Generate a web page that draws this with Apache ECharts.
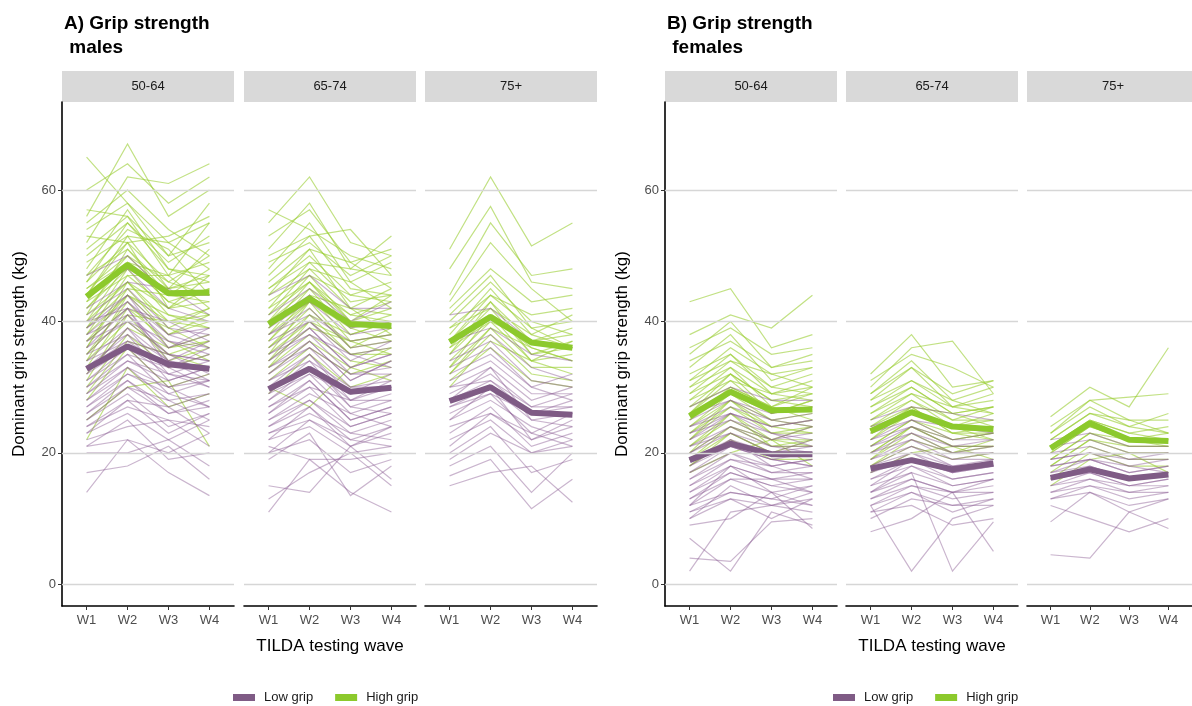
<!DOCTYPE html>
<html><head><meta charset="utf-8">
<script src="https://cdn.jsdelivr.net/npm/echarts@6/dist/echarts.min.js"></script>
<style>html,body{margin:0;padding:0;background:#fff}#c{width:1192px;height:706px}</style>
</head><body><div id="c"></div>
<script>
const waves = ['W1','W2','W3','W4'];
const waveValues = [1,2,3,4];
const ageGroups = ['50-64','65-74','75+'];
const yTicks = [0,20,40,60];
const groupNames = ['Low grip','High grip'];
const panelTitles = ['A) Grip strength\n males','B) Grip strength\n females'];
const xTitle = 'TILDA testing wave';
const yTitle = 'Dominant grip strength (kg)';

// group means per age group (W1..W4)
const maleLowMean = [[32.8,36.2,33.5,32.8],[29.7,32.8,29.3,29.9],[27.9,30.0,26.1,25.8]];
const maleHighMean = [[43.8,48.6,44.3,44.4],[39.6,43.5,39.6,39.3],[36.9,40.7,36.8,36.0]];
const femaleLowMean = [[18.9,21.4,19.8,19.8],[17.6,18.9,17.5,18.4],[16.2,17.5,16.1,16.7]];
const femaleHighMean = [[25.6,29.3,26.5,26.6],[23.3,26.2,24.0,23.6],[20.7,24.5,22.0,21.8]];

// individual trajectories
const maleHigh5064 = [[65,58,52,55],[56,67,56,60],[60,64,58,62],[52,62,61,64],[55,60,54,50],[57,56,50,58],[50,55,49,53],[48,57,48,47],[53,52,53,56],[46,52,46,50],[47,54,51,44],[45,50,44,48],[44,53,45,46],[42,49,43,45],[43,47,47,42],[41,51,44,43],[40,46,40,42],[39,48,41,39],[38,44,40,41],[36,45,38,40],[37,42,39,36],[35,43,36,38],[34,40,35,37],[33,42,37,34],[30,38,33,35],[28,36,30,32],[22,33,27,29],[25,30,31,21],
  [54,58,50,52],[51,56,47,55],[49,53,52,48],[47,51,45,51],[46,55,48,46],[45,49,47,49],[44,52,42,47],[43,50,46,44],[42,48,45,47],[41,46,42,45],[40,49,43,41],[39,45,44,44],[38,47,42,43],[37,44,41,40],[36,46,39,42],[35,41,40,39],[34,44,38,41],[32,39,36,37],[31,41,34,36],[29,37,35,33]];
const maleLow5064 = [[47,50,44,44],[44,48,42,40],[42,46,45,41],[40,44,38,39],[39,43,37,36],[38,41,36,38],[37,40,35,34],[36,42,33,35],[35,38,34,33],[34,39,32,31],[33,37,35,34],[32,36,30,32],[31,35,33,30],[30,34,31,33],[29,33,28,29],[28,32,30,27],[27,31,26,28],[26,30,28,25],[25,29,24,26],[24,28,27,23],[23,26,22,25],[22,24,25,21],[21,22,20,23],[20,20,22,18],[17,18,21,16],[14,22,17,13.5],[21,25,19,20],
  [41,45,39,38],[40,42,40,37],[39,44,36,39],[38,43,38,36],[37,42,34,37],[36,40,37,35],[35,41,35,32],[34,37,33,36],[33,38,31,33],[32,39,34,31],[31,36,32,34],[30,35,29,31],[29,34,32,30],[28,33,30,31],[27,32,29,27],[26,31,27,29],[25,30,26,27],[24,27,25,24],[23,28,23,26]];
const maleHigh6574 = [[57,54,50,48],[55,62,52,50],[51,58,48,53],[50,53,54,47],[48,55,46,49],[46,51,49,45],[45,50,44,46],[44,48,46,42],[42,49,43,44],[41,46,41,40],[40,47,40,42],[39,44,42,38],[38,45,38,40],[37,43,39,37],[36,42,36,39],[35,40,37,35],[34,41,35,36],[33,38,34,33],[31,36,32,34],[30,27,33,31],[29,35,30,32],
  [53,57,49,51],[49,52,47,50],[47,53,45,44],[45,49,48,47],[44,51,42,45],[43,47,44,43],[42,46,40,44],[41,48,42,41],[40,45,41,43],[39,46,39,41],[38,43,40,39],[37,44,37,38],[36,41,38,40],[35,43,36,37],[34,39,37,38],[33,40,35,35],[32,37,33,36]];
const maleLow6574 = [[44,47,42,42],[41,45,40,43],[39,43,38,39],[38,42,36,37],[37,40,35,36],[35,39,33,35],[34,38,32,33],[33,37,31,34],[32,36,30,31],[31,35,29,32],[30,33,28,30],[29,34,27,29],[28,32,26,28],[27,31,25,27],[26,30,24,26],[25,28,23,25],[24,27,22,24],[23,25,21,23],[22,24,20,21],[21,19,19,20],[20,22,17,19],[15,14,21,16],[11,19,14,11],[13,17,20,15],[19,23,13.5,18],
  [40,44,39,40],[38,41,37,38],[36,40,34,37],[35,38,35,33],[34,39,33,35],[33,36,32,32],[32,37,31,34],[31,34,30,30],[30,35,28,31],[29,32,29,30],[28,33,27,26],[27,30,28,28],[26,31,25,27],[25,29,26,24],[24,28,24,26],[23,26,23,22],[22,27,21,24],[20,25,22,21]];
const maleHigh75 = [[51,62,51.5,55],[48,57.5,46,45],[44,55,47,48],[43,52,45,40],[42,48,43,44],[40,46,40,38],[39,44,41,42],[38,45,38,36],[37,43,37,39],[36,42,35,37],[35,41,36,34],[34,40,34,35],[33,39,33,33],[32,38,32,31],[31,36,31,30],[30,37,34,32],
  [41,47,39,40],[39,42,38,41],[37,44,39,36],[36,40,37,38],[35,43,35,36],[33,41,34,37],[32,39,36,34]];
const maleLow75 = [[41,42,37,36],[37,39,35,34],[35,38,33,31],[33,36,30,32],[31,34,29,29],[30,33,28,30],[29,32,27,27],[28,31,26,28],[27,30,25,24],[26,29,23,26],[25,28,24,22],[23,27,21,23],[22,25,20,21],[20,24,17,19],[18,21,14,20],[16.5,19,11.5,16],[15,17,18,12.5],[21,26,22,25],
  [34,37,31,30],[32,35,30,28],[30,31,27,29],[28,33,25,26],[27,29,26,27],[25,30,22,24],[24,26,23,21],[19,23,20,22]];
const femaleHigh5064 = [[43,45,36,38],[38,41,39,44],[35,40,33,35],[33,38,31,33],[31,36,32,30],[30,35,29,31],[29,34,30,29],[28,33,27,30],[27,32,28,27],[26,31,26,28],[25,30,27,25],[24,29,25,26],[23,28,24,23],[22,27,23,24],[21,26,22,22],[20,24,21,21],[19,23,20,20],[18,22,19,19],[17,20,22,18],
  [36,39,35,36],[34,37,33,34],[32,35,30,32],[31,34,32,33],[30,33,29,30],[29,32,28,29],[28,31,29,28],[27,30,27,29],[26,32,26,27],[25,29,26,28],[24,28,25,24],[23,27,24,25],[22,28,23,23],[21,25,22,24],[20,26,21,22],[19,24,22,21],[18,23,20,22]];
const femaleLow5064 = [[27,30,28,28],[25,28,26,27],[24,27,25,24],[23,26,24,25],[22,25,23,22],[21,24,22,23],[20,23,21,20],[19,22,20,21],[18,21,19,18],[17,20,18,19],[16,19,17,17],[15,18,16,16],[14,17,15,14],[13,16,14,15],[12,14,13,12],[11,13,10,13],[10,15,12,11],[9,10,14,8.5],[4,3.5,9.5,10],[2,11,12,13],[7,2,11,9],
  [26,28,25,26],[24,26,24,25],[23,25,22,24],[22,26,23,21],[21,23,20,22],[20,24,21,21],[19,21,19,20],[18,22,18,19],[17,21,19,18],[16,20,17,18],[15,19,18,16],[14,18,16,17],[13,17,15,16],[12,16,16,14],[11,14,13,15],[10,13,12,14],[12,18,14,12]];
const femaleHigh6574 = [[32,38,30,31],[30,36,37,29],[29,34,28,30],[28,33,27,28],[27,31,28,26],[26,30,26,27],[25,29,25,25],[24,28,24,26],[23,27,23,24],[22,26,24,22],[21,25,22,23],[20,24,21,21],[19,23,20,22],[18,21,19,20],[17,20,21,19],
  [31,35,33,30],[29,33,29,31],[28,31,27,29],[27,30,26,27],[26,29,27,26],[25,28,25,27],[24,27,26,24],[23,26,24,25],[22,27,23,23],[21,25,23,22],[20,24,22,23],[19,24,21,21],[18,22,20,21]];
const femaleLow6574 = [[25,27,26,25],[23,25,24,23],[22,24,22,22],[21,23,21,21],[20,22,20,20],[19,21,19,19],[18,20,18,18],[17,19,17,18],[16,18,16,17],[15,17,15,16],[14,16,14,15],[13,15,13,14],[12,14,11,13],[11,12,9,10],[8,10,14,5],[12,2,10,12],[14,17,2,9.5],
  [24,26,24,24],[22,25,22,23],[21,24,21,22],[20,23,20,21],[19,22,19,20],[18,21,18,19],[17,20,17,19],[16,19,17,18],[15,19,16,17],[14,18,15,16],[13,16,14,16],[12,15,14,14],[11,14,12,13],[10,13,12,12]];
const femaleHigh75 = [[25.5,30,27,36],[24,28,28.5,29],[23,27,24,26],[22,26,25,23],[21,25,23,24],[20,24,22,22],[19,23,21,21],[18,22,20,20],[17,21,19,19],[16,20,18,18],[15,19,20,17],
  [23,28,25,25],[22,26,24,23],[21,25,23,22],[20,24,22,23],[19,23,22,21],[18,22,21,21]];
const femaleLow75 = [[22,23,21,21],[20,21,19,20],[19,20,18,19],[18,19,17,18],[17,18,16,17],[16,17,15,16],[15,16,14,15],[14,15,13,14],[13,14,12,13],[12,10,8,10],[9.5,14,11,8.5],[4.5,4,11,13],
  [21,22,20,20],[19,20,19,19],[18,19,18,17],[17,19,17,18],[16,18,16,17],[15,17,15,16],[14,16,15,15],[13,15,14,14]];

const lowIndiv = [[maleLow5064,maleLow6574,maleLow75],[femaleLow5064,femaleLow6574,femaleLow75]];
const highIndiv = [[maleHigh5064,maleHigh6574,maleHigh75],[femaleHigh5064,femaleHigh6574,femaleHigh75]];
const lowMeans = [maleLowMean, femaleLowMean];
const highMeans = [maleHighMean, femaleHighMean];

// layout (pixels)
const facetLeft = [[62,244,425],[665,846,1027]];
const facetWidth = 172;
const plotTop = 102, plotHeight = 504;
const stripTop = 71, stripHeight = 31;
const yMin = -3.3, yMax = 73.4;

const COL_LOW = '#7f5b85', COL_HIGH = '#8cc92c';
const COL_LOW_THIN = '#8a5c92', COL_HIGH_THIN = '#9acd32';
const FONT = 'Liberation Sans, Arial, sans-serif';

const grids = [], xAxes = [], yAxes = [], series = [], graphics = [];
for (let p = 0; p < 2; p++) {
  for (let f = 0; f < 3; f++) {
    const g = p*3 + f;
    const left = facetLeft[p][f];
    grids.push({left: left, top: plotTop, width: facetWidth, height: plotHeight, containLabel: false});
    xAxes.push({
      gridIndex: g, type: 'value', min: 0.4, max: 4.6,
      axisLine: {show: true, onZero: false, lineStyle: {color: '#000', width: 1.6}},
      axisTick: {show: true, customValues: waveValues, length: 4, lineStyle: {color: '#333'}},
      axisLabel: {show: true, customValues: waveValues, formatter: v => waves[Math.round(v)-1], fontSize: 13, color: '#4d4d4d', margin: 8, fontFamily: FONT},
      splitLine: {show: false},
      name: f === 1 ? xTitle : '', nameLocation: 'middle', nameGap: 32,
      nameTextStyle: {fontSize: 17, color: '#000', fontFamily: FONT}
    });
    yAxes.push({
      gridIndex: g, type: 'value', min: yMin, max: yMax,
      axisLine: {show: f === 0, onZero: false, lineStyle: {color: '#000', width: 1.6}},
      axisTick: {show: f === 0, customValues: yTicks, length: 4, lineStyle: {color: '#333'}},
      axisLabel: {show: f === 0, customValues: yTicks, fontSize: 13, color: '#4d4d4d', margin: 6, fontFamily: FONT},
      splitLine: {show: false},
      name: f === 0 ? yTitle : '', nameLocation: 'middle', nameRotate: 90, nameGap: 34,
      nameTextStyle: {fontSize: 17, color: '#000', fontFamily: FONT}
    });
    // gridlines
    series.push({
      type: 'line', xAxisIndex: g, yAxisIndex: g, data: [], z: 1, silent: true,
      markLine: {silent: true, symbol: 'none', animation: false, label: {show: false},
        lineStyle: {color: '#d6d6d6', width: 1.3, type: 'solid'},
        data: yTicks.map(v => ({yAxis: v}))}
    });
    series.push({
      name: 'High grip (individual)', type: 'lines', coordinateSystem: 'cartesian2d', polyline: true,
      xAxisIndex: g, yAxisIndex: g, z: 2, silent: true, animation: false,
      lineStyle: {color: COL_HIGH_THIN, width: 1.2, opacity: 0.6},
      data: highIndiv[p][f].map(t => ({coords: t.map((v, i) => [waveValues[i], v])}))
    });
    series.push({
      name: 'Low grip (individual)', type: 'lines', coordinateSystem: 'cartesian2d', polyline: true,
      xAxisIndex: g, yAxisIndex: g, z: 3, silent: true, animation: false,
      lineStyle: {color: COL_LOW_THIN, width: 1.2, opacity: 0.45},
      data: lowIndiv[p][f].map(t => ({coords: t.map((v, i) => [waveValues[i], v])}))
    });
    series.push({
      name: groupNames[0], type: 'line', xAxisIndex: g, yAxisIndex: g, z: 4, symbol: 'none', animation: false,
      itemStyle: {color: COL_LOW}, lineStyle: {color: COL_LOW, width: 6},
      data: lowMeans[p][f].map((v, i) => [waveValues[i], v])
    });
    series.push({
      name: groupNames[1], type: 'line', xAxisIndex: g, yAxisIndex: g, z: 5, symbol: 'none', animation: false,
      itemStyle: {color: COL_HIGH}, lineStyle: {color: COL_HIGH, width: 6},
      data: highMeans[p][f].map((v, i) => [waveValues[i], v])
    });
    graphics.push({
      type: 'rect', shape: {x: left, y: stripTop, width: facetWidth, height: stripHeight},
      style: {fill: '#d9d9d9'}, silent: true
    });
    graphics.push({
      type: 'text', x: left + facetWidth/2, y: stripTop + stripHeight/2,
      style: {text: ageGroups[f], fontSize: 13, fill: '#1a1a1a', align: 'center', verticalAlign: 'middle', fontFamily: FONT},
      silent: true
    });
  }
}

const legendBase = {
  data: groupNames, icon: 'rect', itemWidth: 22, itemHeight: 7, itemGap: 22, top: 686,
  selectedMode: false, textStyle: {fontSize: 13, color: '#1a1a1a', fontFamily: FONT, padding: [0, 0, 0, 4]}
};

const chart = echarts.init(document.getElementById('c'), null, {renderer: 'canvas'});
chart.setOption({
  animation: false,
  textStyle: {fontFamily: FONT},
  title: [
    {text: panelTitles[0], left: 59, top: 7, textStyle: {fontSize: 19, fontWeight: 'bold', color: '#000', lineHeight: 24, fontFamily: FONT}},
    {text: panelTitles[1], left: 662, top: 7, textStyle: {fontSize: 19, fontWeight: 'bold', color: '#000', lineHeight: 24, fontFamily: FONT}}
  ],
  legend: [
    Object.assign({}, legendBase, {left: 228}),
    Object.assign({}, legendBase, {left: 828})
  ],
  grid: grids, xAxis: xAxes, yAxis: yAxes, series: series, graphic: graphics
});
</script></body></html>
